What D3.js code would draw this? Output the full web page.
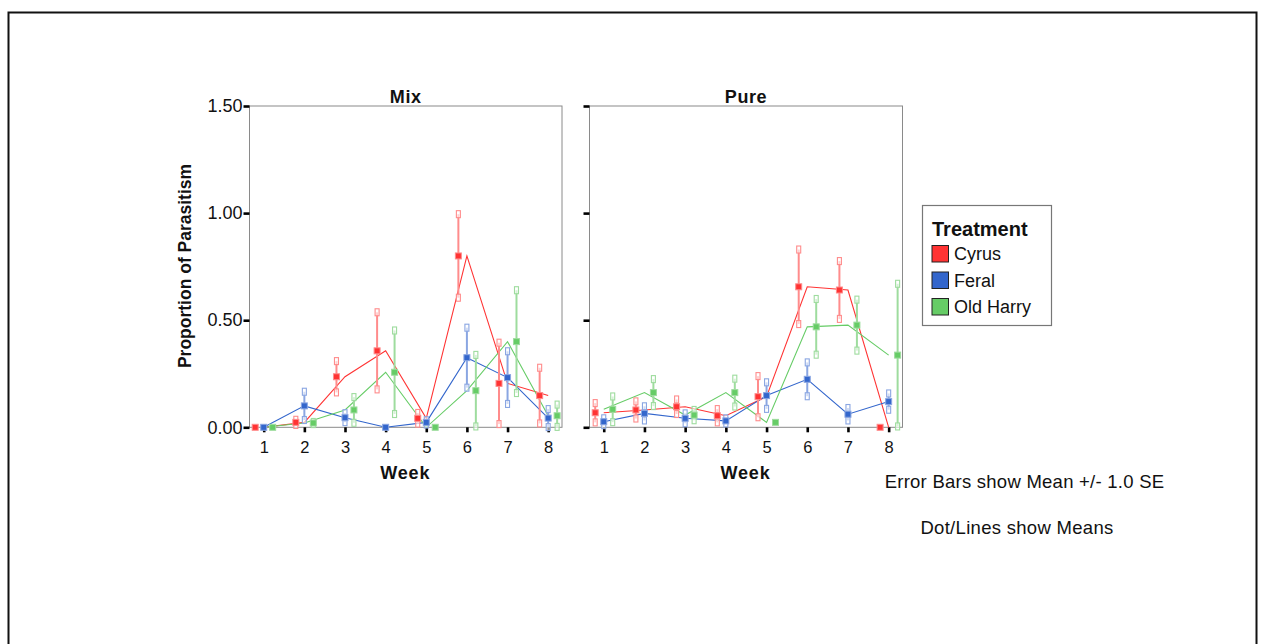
<!DOCTYPE html>
<html>
<head>
<meta charset="utf-8">
<script src="https://cdn.jsdelivr.net/npm/d3@7"></script>
<style>
  body { margin: 0; background: #fff; }
  text { font-family: "Liberation Sans", Arial, sans-serif; fill: #111; }
</style>
</head>
<body>
<svg id="chart" width="1261" height="644"></svg>
<script>
// Weekly proportion of parasitism by treatment, split into Mix and Pure plots
const weeks = [1, 2, 3, 4, 5, 6, 7, 8];
const treatments = ["Cyrus", "Feral", "Old Harry"];
const panels = ["Mix", "Pure"];
const yTicks = [0, 0.5, 1.0, 1.5];

// Mix plots: means and standard errors
const mixCyrusMean    = [0, 0.023, 0.236, 0.357, 0.042, 0.800, 0.205, 0.148];
const mixCyrusSE      = [0, 0.012, 0.073, 0.180, 0.025, 0.195, 0.190, 0.130];
const mixFeralMean    = [0, 0.100, 0.045, 0, 0.023, 0.325, 0.232, 0.043];
const mixFeralSE      = [0, 0.066, 0.021, 0, 0.010, 0.140, 0.123, 0.042];
const mixOldHarryMean = [0, 0.020, 0.081, 0.257, 0, 0.171, 0.400, 0.054];
const mixOldHarrySE   = [0, 0.005, 0.060, 0.195, 0, 0.167, 0.240, 0.052];

// Pure plots: means and standard errors
const pureCyrusMean    = [0.068, 0.081, 0.096, 0.054, 0.143, 0.656, 0.641, 0];
const pureCyrusSE      = [0.045, 0.040, 0.034, 0.031, 0.096, 0.174, 0.135, 0];
const pureFeralMean    = [0.026, 0.065, 0.042, 0.030, 0.148, 0.224, 0.061, 0.120];
const pureFeralSE      = [0.016, 0.033, 0.023, 0.012, 0.062, 0.079, 0.029, 0.038];
const pureOldHarryMean = [0.084, 0.162, 0.057, 0.162, 0.023, 0.469, 0.477, 0.337];
const pureOldHarrySE   = [0.060, 0.063, 0.024, 0.065, 0, 0.130, 0.119, 0.333];

const seriesTable = {
  Mix: {
    "Cyrus":     [mixCyrusMean, mixCyrusSE],
    "Feral":     [mixFeralMean, mixFeralSE],
    "Old Harry": [mixOldHarryMean, mixOldHarrySE]
  },
  Pure: {
    "Cyrus":     [pureCyrusMean, pureCyrusSE],
    "Feral":     [pureFeralMean, pureFeralSE],
    "Old Harry": [pureOldHarryMean, pureOldHarrySE]
  }
};

// Styling
const color  = { "Cyrus": "#ff3333", "Feral": "#3366cc", "Old Harry": "#66cc66" };
const light  = { "Cyrus": "#ff8c8c", "Feral": "#8aa6e2", "Old Harry": "#9edc9e" };
const dodge  = { "Cyrus": -0.21, "Feral": 0, "Old Harry": 0.22 };   // in week units
const panelRange = { Mix: [249.5, 562], Pure: [589.5, 902.5] };
const plotTop = 106, plotBottom = 427.3;

const svg = d3.select("#chart");

// outer frame
svg.append("rect")
  .attr("x", 8.5).attr("y", 12.5).attr("width", 1248).attr("height", 660)
  .attr("fill", "none").attr("stroke", "#111").attr("stroke-width", 2);

const y = d3.scaleLinear().domain([0, 1.5]).range([plotBottom, plotTop]);

panels.forEach((panel, pi) => {
  const x = d3.scaleLinear().domain([0.65, 8.34]).range(panelRange[panel]);
  const g = svg.append("g");
  const [x0, x1] = panelRange[panel];

  // plot frame
  g.append("rect")
    .attr("x", x0).attr("y", plotTop)
    .attr("width", x1 - x0).attr("height", plotBottom - plotTop)
    .attr("fill", "none").attr("stroke", "#8a8a8a").attr("stroke-width", 1);

  // y axis
  const yAxis = d3.axisLeft(y).tickValues(yTicks).tickSize(6).tickPadding(1)
    .tickFormat(pi === 0 ? d3.format(".2f") : () => "");
  const ya = g.append("g").attr("transform", `translate(${x0},0)`).call(yAxis);
  ya.select(".domain").remove();
  ya.selectAll(".tick line").attr("stroke", "#000").attr("stroke-width", 2.6);
  ya.selectAll(".tick text").attr("font-size", 18).attr("fill", "#111")
    .attr("font-family", "\"Liberation Sans\", Arial, sans-serif");

  // x axis
  const xAxis = d3.axisBottom(x).tickValues(weeks).tickSize(5).tickPadding(9)
    .tickFormat(d3.format("d"));
  const xa = g.append("g").attr("transform", `translate(0,${plotBottom})`).call(xAxis);
  xa.select(".domain").remove();
  xa.selectAll(".tick line").attr("stroke", "#000").attr("stroke-width", 2.6);
  xa.selectAll(".tick text").attr("font-size", 16.5).attr("fill", "#111")
    .attr("font-family", "\"Liberation Sans\", Arial, sans-serif");

  // panel title
  g.append("text").attr("x", (x0 + x1) / 2).attr("y", 103)
    .attr("text-anchor", "middle").attr("font-size", 18).attr("font-weight", "bold")
    .attr("letter-spacing", 0.6)
    .text(panel);

  // x axis title
  g.append("text").attr("x", (x0 + x1) / 2 - 0.5).attr("y", 479)
    .attr("text-anchor", "middle").attr("font-size", 18).attr("font-weight", "bold")
    .attr("letter-spacing", 0.8)
    .text("Week");

  const line = d3.line().x(d => x(d.week)).y(d => y(d.mean));

  treatments.forEach(t => {
    const [means, ses] = seriesTable[panel][t];
    const pts = weeks.map((w, i) => ({ week: w, mean: means[i], se: ses[i] }));

    // connecting line through weekly means
    g.append("path").datum(pts)
      .attr("d", line).attr("fill", "none")
      .attr("stroke", color[t]).attr("stroke-width", 1.1);
  });

  treatments.forEach(t => {
    const [means, ses] = seriesTable[panel][t];
    const pts = weeks.map((w, i) => ({ week: w, mean: means[i], se: ses[i] }));
    const bars = pts.filter(d => d.se > 0);

    // error bars: mean +/- 1 SE
    g.selectAll(null).data(bars).enter().append("line")
      .attr("x1", d => x(d.week + dodge[t])).attr("x2", d => x(d.week + dodge[t]))
      .attr("y1", d => y(Math.max(0, d.mean - d.se))).attr("y2", d => y(d.mean + d.se))
      .attr("stroke", light[t]).attr("stroke-width", 2);

    const caps = [];
    bars.forEach(d => {
      caps.push({ week: d.week, v: d.mean + d.se });
      caps.push({ week: d.week, v: Math.max(0, d.mean - d.se) });
    });
    g.selectAll(null).data(caps).enter().append("rect")
      .attr("x", d => x(d.week + dodge[t]) - 2)
      .attr("y", d => y(d.v) - 3.5)
      .attr("width", 4).attr("height", 7)
      .attr("fill", "#fff").attr("fill-opacity", 0.6)
      .attr("stroke", light[t]).attr("stroke-width", 1.1);

    // mean markers
    g.selectAll(null).data(pts).enter().append("rect")
      .attr("x", d => x(d.week + dodge[t]) - 3)
      .attr("y", d => y(d.mean) - 3)
      .attr("width", 6).attr("height", 6)
      .attr("fill", color[t])
      .attr("stroke", light[t]).attr("stroke-width", 1);
  });
});

// y axis title
svg.append("text")
  .attr("transform", "translate(191,266) rotate(-90)")
  .attr("text-anchor", "middle").attr("font-size", 17.5).attr("font-weight", "bold")
  .text("Proportion of Parasitism");

// legend
const lg = svg.append("g");
lg.append("rect").attr("x", 922.5).attr("y", 205.5).attr("width", 129).attr("height", 120)
  .attr("fill", "#fff").attr("stroke", "#777").attr("stroke-width", 1.2);
lg.append("text").attr("x", 932).attr("y", 236).attr("font-size", 20).attr("font-weight", "bold")
  .text("Treatment");
const legendY = d3.scalePoint().domain(treatments).range([253.5, 306.5]);
treatments.forEach(t => {
  lg.append("rect").attr("x", 932).attr("y", legendY(t) - 8)
    .attr("width", 16.5).attr("height", 16.5)
    .attr("fill", color[t]).attr("stroke", "#222").attr("stroke-width", 1);
  lg.append("text").attr("x", 954).attr("y", legendY(t) + 6.5)
    .attr("font-size", 18).text(t);
});

// footnotes
svg.append("text").attr("x", 1024.5).attr("y", 488).attr("text-anchor", "middle")
  .attr("font-size", 18.5).attr("letter-spacing", 0.25).text("Error Bars show Mean +/- 1.0 SE");
svg.append("text").attr("x", 1017).attr("y", 534).attr("text-anchor", "middle")
  .attr("font-size", 18.5).attr("letter-spacing", 0.3).text("Dot/Lines show Means");
</script>
</body>
</html>
